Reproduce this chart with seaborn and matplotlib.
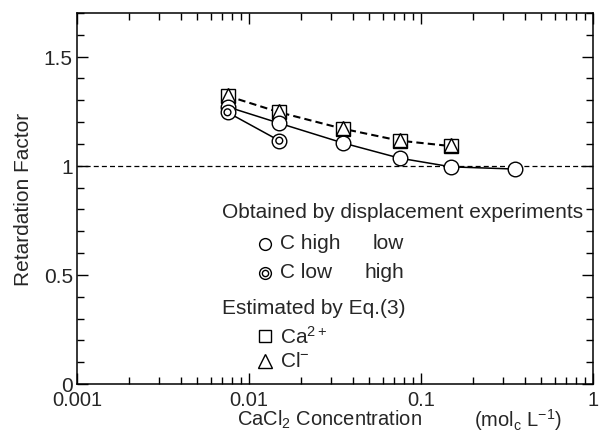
import matplotlib
matplotlib.use("Agg")
import matplotlib.pyplot as plt
import seaborn as sns
import numpy as np
import pandas as pd
from matplotlib.ticker import NullFormatter, MultipleLocator, LogLocator

# ---- data ----
conc_high_low = [0.0075, 0.015, 0.035, 0.075, 0.15, 0.35]
rf_high_low = [1.27, 1.195, 1.105, 1.035, 0.995, 0.985]
conc_low_high = [0.0075, 0.015]
rf_low_high = [1.245, 1.115]
conc_est = [0.0075, 0.015, 0.035, 0.075, 0.15]
rf_ca = [1.32, 1.245, 1.17, 1.115, 1.09]
rf_cl = [1.325, 1.25, 1.175, 1.12, 1.095]

xticks = [0.001, 0.01, 0.1, 1]
xticklabels = ["0.001", "0.01", "0.1", "1"]
yticks = [0, 0.5, 1, 1.5]
yticklabels = ["0", "0.5", "1", "1.5"]

sns.set_style("ticks")
plt.rcParams['font.family'] = ['Liberation Sans', 'DejaVu Sans']
plt.rcParams['mathtext.default'] = 'regular'
FS = 15

W, H = 602, 431
fig = plt.figure(figsize=(W / 100, H / 100), dpi=100)
ax = fig.add_axes([77 / W, 1 - 385 / H, (593 - 77) / W, (385 - 14) / H])

def fx(px):
    return px / W

def fy(py):
    return 1 - py / H

# reference line
ax.axhline(1.0, color='black', lw=0.9, ls=(0, (4, 2.5)), zorder=1)

# estimated: squares and triangles with dashed line
df_ca = pd.DataFrame({"x": conc_est, "y": rf_ca})
df_cl = pd.DataFrame({"x": conc_est, "y": rf_cl})
sns.lineplot(data=df_ca, x="x", y="y", ax=ax, color='black', lw=1.5,
             ls=(0, (3.5, 2)), marker='s', markersize=10, markerfacecolor='white',
             markeredgecolor='black', markeredgewidth=1, zorder=3)
sns.lineplot(data=df_cl, x="x", y="y", ax=ax, color='black', lw=0,
             marker='^', markersize=10, markerfacecolor='none',
             markeredgecolor='black', markeredgewidth=1, zorder=4)

# displacement experiments
df_hl = pd.DataFrame({"x": conc_high_low, "y": rf_high_low})
df_lh = pd.DataFrame({"x": conc_low_high, "y": rf_low_high})
sns.lineplot(data=df_hl, x="x", y="y", ax=ax, color='black', lw=1.1,
             marker='o', markersize=10.5, markerfacecolor='white',
             markeredgecolor='black', markeredgewidth=1, zorder=5)
sns.lineplot(data=df_lh, x="x", y="y", ax=ax, color='black', lw=1.1,
             marker='o', markersize=10.5, markerfacecolor='white',
             markeredgecolor='black', markeredgewidth=1, zorder=6)
sns.scatterplot(data=df_lh, x="x", y="y", ax=ax, marker='o', s=24,
                facecolor='none', edgecolor='black', linewidth=1, zorder=7)

ax.set_xscale('log')
ax.set_xlim(0.001, 1)
ax.set_ylim(0, 1.7)
ax.set_xticks(xticks)
ax.set_xticklabels(xticklabels)
ax.xaxis.set_minor_locator(LogLocator(base=10, subs=np.arange(2, 10)))
ax.xaxis.set_minor_formatter(NullFormatter())
ax.set_yticks(yticks)
ax.set_yticklabels(yticklabels)
ax.yaxis.set_minor_locator(MultipleLocator(0.1))

ax.tick_params(which='both', direction='in', top=True, right=True, labelsize=FS,
               color='black', width=1)
ax.tick_params(which='major', length=8)
ax.tick_params(which='minor', length=5)
ax.tick_params(axis='x', which='major', pad=4, labelsize=14.5)
ax.tick_params(axis='y', which='major', pad=3)
for s in ax.spines.values():
    s.set_color('black')
    s.set_linewidth(1.1)

ax.set_xlabel("")
ax.set_ylabel("Retardation Factor", fontsize=FS, labelpad=8)

# x label as two parts
fig.text(fx(237), fy(420), "CaCl$_2$ Concentration", fontsize=14.5, ha='left', va='center')
fig.text(fx(474), fy(420), "(mol$_c$ L$^{-1}$)", fontsize=14.5, ha='left', va='center')

# legend-like annotation
fig.text(fx(222), fy(213), "Obtained by displacement experiments", fontsize=FS, ha='left', va='center')
fig.text(fx(280), fy(244), "C high", fontsize=FS, ha='left', va='center')
fig.text(fx(373), fy(244), "low", fontsize=FS, ha='left', va='center')
fig.text(fx(280), fy(273), "C low", fontsize=FS, ha='left', va='center')
fig.text(fx(365), fy(273), "high", fontsize=FS, ha='left', va='center')
fig.text(fx(222), fy(308), "Estimated by Eq.(3)", fontsize=FS, ha='left', va='center')
fig.text(fx(280), fy(337), "Ca$^{2+}$", fontsize=FS, ha='left', va='center')
fig.text(fx(280), fy(362), "Cl$^{-}$", fontsize=FS, ha='left', va='center')

kw = dict(transform=fig.transFigure, clip_on=False, color='black', lw=0,
          markerfacecolor='white', markeredgecolor='black', markeredgewidth=1)
ax.plot([fx(265)], [fy(245)], marker='o', markersize=8.5, **kw)
ax.plot([fx(265)], [fy(274)], marker='o', markersize=8.5, **kw)
ax.plot([fx(265)], [fy(274)], marker='o', markersize=4.5, **kw)
ax.plot([fx(265)], [fy(337)], marker='s', markersize=8.5, **kw)
ax.plot([fx(265)], [fy(362)], marker='^', markersize=9.5, **kw)

fig.savefig("out.png", dpi=100)
